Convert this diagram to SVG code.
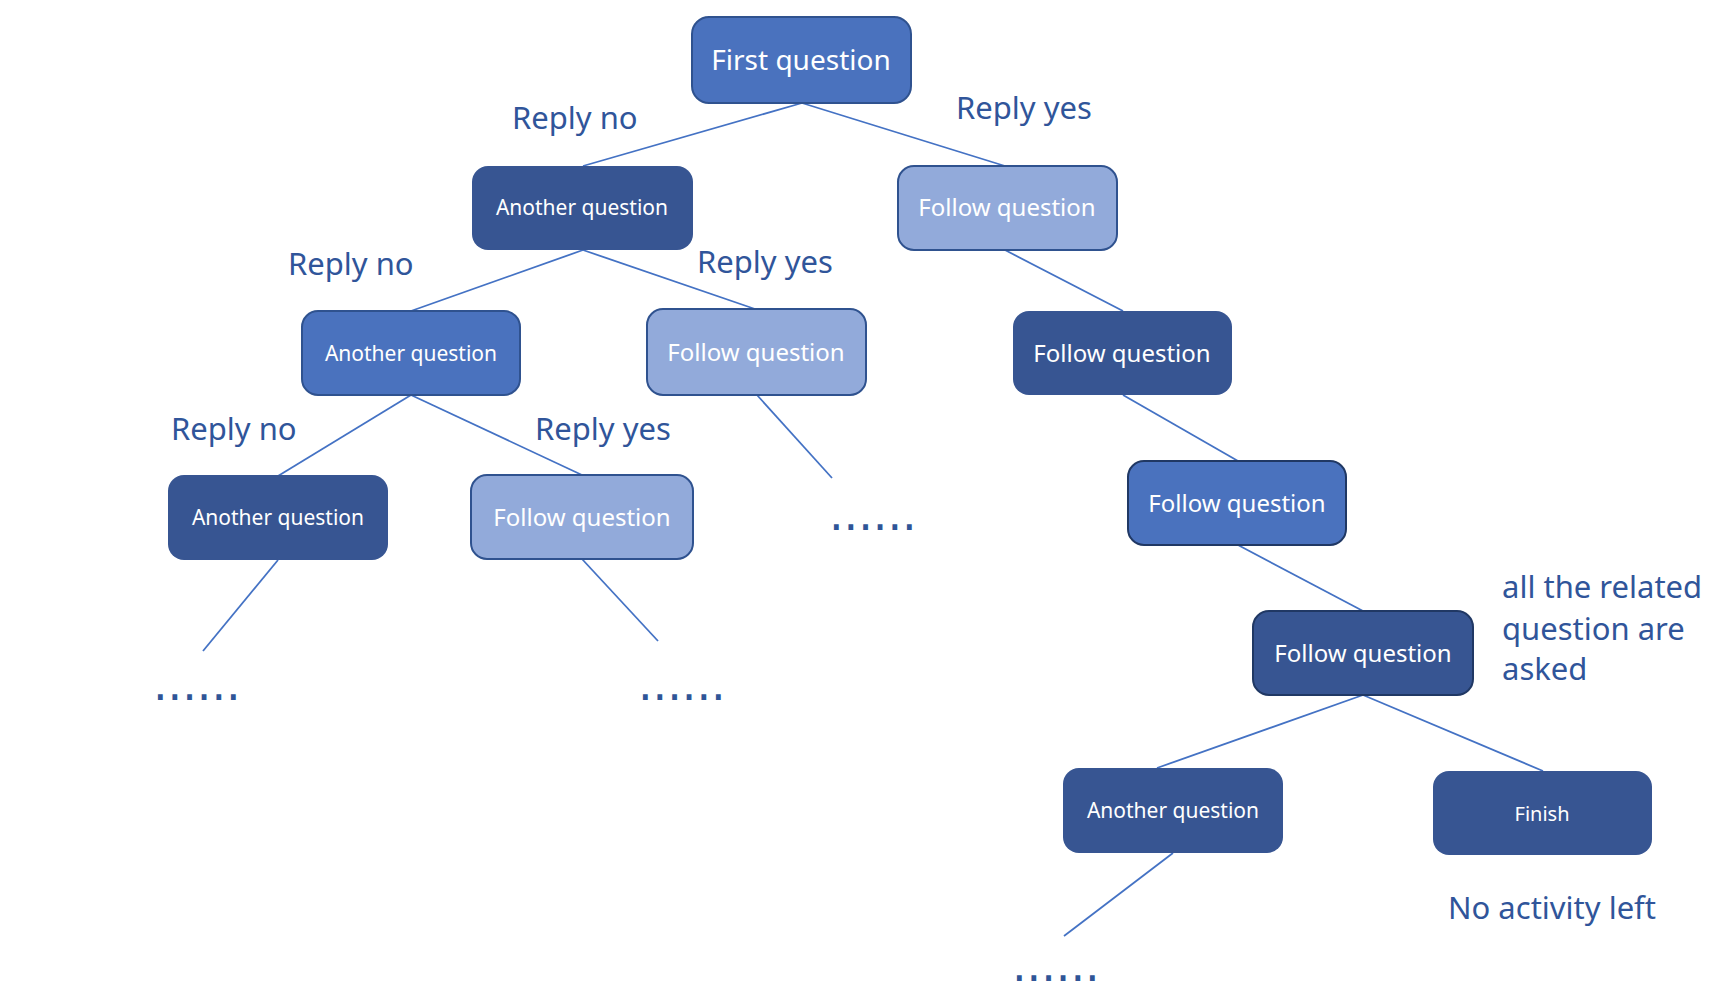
<svg xmlns="http://www.w3.org/2000/svg" width="1734" height="1008" viewBox="0 0 1734 1008">
<style>
.box{stroke-width:2}
.dark{fill:#375592}
.med{fill:#4A72BE;stroke:#2F528F}
.light{fill:#92AADA;stroke:#2F528F}
.dk-stroke{stroke:#203864}
.nt{fill:#FFFFFF;font-family:"Noto Sans","Liberation Sans",sans-serif;text-anchor:middle}
.lbl{fill:#30559A;font-family:"Noto Sans","Liberation Sans",sans-serif;font-size:31px}
.dots{fill:#2F5597;font-family:"DejaVu Sans",sans-serif;font-size:46px}
.conn line{stroke:#4472C4;stroke-width:1.8;fill:none}
</style>
<rect width="1734" height="1008" fill="#FFFFFF"/>
<g id="connectors" class="conn">
<line x1="802" y1="103" x2="583" y2="166"/>
<line x1="802" y1="103" x2="1005" y2="166"/>
<line x1="583" y1="250" x2="411" y2="311"/>
<line x1="583" y1="250" x2="755" y2="309"/>
<line x1="1005" y1="250" x2="1123" y2="311"/>
<line x1="411" y1="395" x2="278" y2="476"/>
<line x1="411" y1="395" x2="582" y2="475"/>
<line x1="757" y1="395" x2="832" y2="478"/>
<line x1="1123" y1="395" x2="1238" y2="461"/>
<line x1="1238" y1="545" x2="1363" y2="611"/>
<line x1="1363" y1="695" x2="1157" y2="768"/>
<line x1="1363" y1="695" x2="1543" y2="771"/>
<line x1="278" y1="560" x2="203" y2="651"/>
<line x1="582" y1="559" x2="658" y2="641"/>
<line x1="1173" y1="853" x2="1064" y2="936"/>
</g>
<g id="n-first"><rect class="box med" x="692" y="17" width="219" height="86" rx="17"/><text class="nt" x="801" y="70" font-size="28">First question</text></g>
<g id="n-another1"><rect class="box dark" x="472" y="166" width="221" height="84" rx="16"/><text class="nt" x="582" y="215" font-size="21">Another question</text></g>
<g id="n-follow1"><rect class="box light" x="898" y="166" width="219" height="84" rx="16"/><text class="nt" x="1007" y="216" font-size="24">Follow question</text></g>
<g id="n-another2"><rect class="box med" x="302" y="311" width="218" height="84" rx="16"/><text class="nt" x="411" y="361" font-size="21">Another question</text></g>
<g id="n-follow2"><rect class="box light" x="647" y="309" width="219" height="86" rx="16"/><text class="nt" x="756" y="361" font-size="24">Follow question</text></g>
<g id="n-follow-r2"><rect class="box dark" x="1013" y="311" width="219" height="84" rx="16"/><text class="nt" x="1122" y="362" font-size="24">Follow question</text></g>
<g id="n-another3"><rect class="box dark" x="168" y="475" width="220" height="85" rx="16"/><text class="nt" x="278" y="525" font-size="21">Another question</text></g>
<g id="n-follow3"><rect class="box light" x="471" y="475" width="222" height="84" rx="16"/><text class="nt" x="582" y="526" font-size="24">Follow question</text></g>
<g id="n-follow-r3"><rect class="box med dk-stroke" x="1128" y="461" width="218" height="84" rx="16"/><text class="nt" x="1237" y="512" font-size="24">Follow question</text></g>
<g id="n-follow-r4"><rect class="box dark dk-stroke" stroke="#203864" x="1253" y="611" width="220" height="84" rx="16"/><text class="nt" x="1363" y="662" font-size="24">Follow question</text></g>
<g id="n-another-r5"><rect class="box dark" x="1063" y="768" width="220" height="85" rx="16"/><text class="nt" x="1173" y="818" font-size="21">Another question</text></g>
<g id="n-finish"><rect class="box dark" x="1433" y="771" width="219" height="84" rx="16"/><text class="nt" x="1542" y="821" font-size="20">Finish</text></g>
<g id="labels">
<text class="lbl" x="512" y="129">Reply no</text>
<text class="lbl" x="956" y="119">Reply yes</text>
<text class="lbl" x="288" y="275">Reply no</text>
<text class="lbl" x="697" y="273">Reply yes</text>
<text class="lbl" x="171" y="440">Reply no</text>
<text class="lbl" x="535" y="440">Reply yes</text>
<text class="lbl" x="1502" y="598">all the related</text>
<text class="lbl" x="1502" y="640">question are</text>
<text class="lbl" x="1502" y="680">asked</text>
<text class="lbl" x="1448" y="919">No activity left</text>
<text class="dots" x="153" y="700">......</text>
<text class="dots" x="638" y="700">......</text>
<text class="dots" x="829" y="530">......</text>
<text class="dots" x="1012" y="981">......</text>
</g>
</svg>
